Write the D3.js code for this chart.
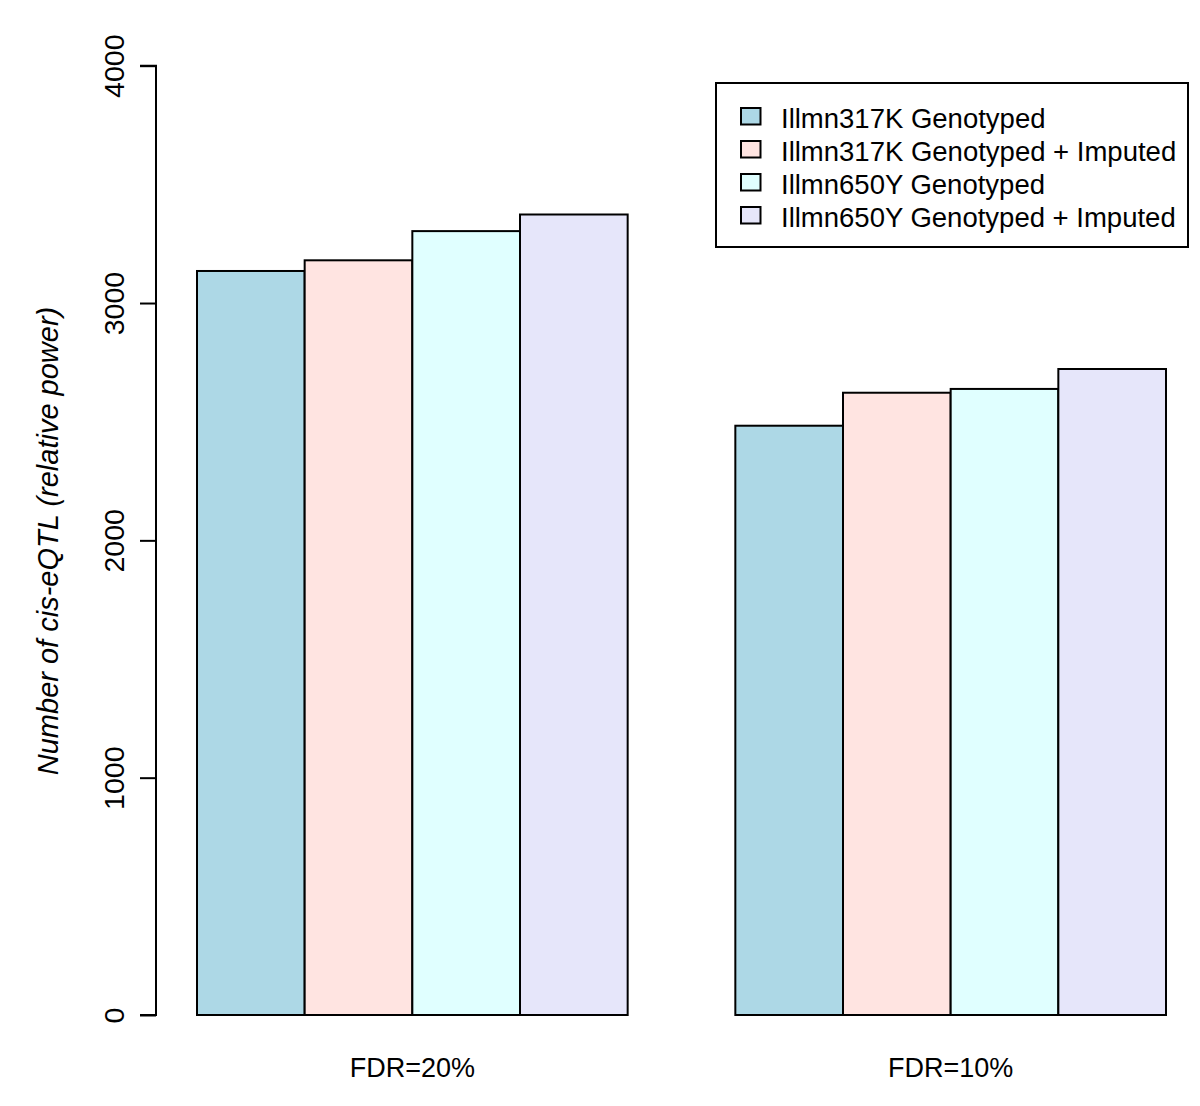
<!DOCTYPE html>
<html>
<head>
<meta charset="utf-8">
<script src="https://cdn.jsdelivr.net/npm/d3@7"></script>
<style>
  body { margin: 0; background: #fff; }
  text { font-family: "Liberation Sans", Arial, sans-serif; fill: #000; }
</style>
</head>
<body>
<svg id="chart" width="1200" height="1106"></svg>
<script>
const groups = ["FDR=20%", "FDR=10%"];
const seriesNames = ["Illmn317K Genotyped", "Illmn317K Genotyped + Imputed", "Illmn650Y Genotyped", "Illmn650Y Genotyped + Imputed"];
const seriesColors = ["#ADD8E6", "#FFE4E1", "#E0FFFF", "#E6E6FA"];
const fdr20Values = [3135, 3180, 3303, 3373];
const fdr10Values = [2483, 2622, 2638, 2722];
const yTicks = [0, 1000, 2000, 3000, 4000];
const yTitle = "Number of cis-eQTL (relative power)";

const values = [fdr20Values, fdr10Values];
const svg = d3.select("#chart");

const y = d3.scaleLinear().domain([0, 4000]).range([1015, 65.7]);
const xGroup = d3.scaleBand().domain(groups).range([197, 1166]).paddingInner(0.2).paddingOuter(0);
const xSub = d3.scaleBand().domain(d3.range(seriesNames.length)).range([0, xGroup.bandwidth()]).padding(0);

const g = svg.append("g");
groups.forEach((grp, gi) => {
  g.selectAll(null).data(values[gi]).enter().append("rect")
    .attr("x", (d, i) => xGroup(grp) + xSub(i))
    .attr("y", d => y(d))
    .attr("width", xSub.bandwidth())
    .attr("height", d => y(0) - y(d))
    .attr("fill", (d, i) => seriesColors[i])
    .attr("stroke", "#000")
    .attr("stroke-width", 2);
  svg.append("text")
    .attr("x", xGroup(grp) + xGroup.bandwidth() / 2)
    .attr("y", 1077)
    .attr("text-anchor", "middle")
    .attr("font-size", 27)
    .text(grp);
});

// Y axis
const yAxis = d3.axisLeft(y).tickValues(yTicks).tickSize(16).tickFormat(d3.format("d"));
const ax = svg.append("g").attr("transform", "translate(156,0)").call(yAxis);
ax.select(".domain").attr("stroke", "#000").attr("stroke-width", 2).attr("d", `M-16,${y(0)}H0V${y(4000)}H-16`);
ax.selectAll(".tick line").attr("stroke", "#000").attr("stroke-width", 2);
ax.selectAll(".tick text")
  .attr("font-size", 28.5)
  .attr("font-family", "'Liberation Sans', Arial, sans-serif")
  .attr("fill", "#000")
  .attr("x", null).attr("dy", null)
  .attr("text-anchor", "middle")
  .attr("transform", "translate(-32,0) rotate(-90)");

// Y title
svg.append("text")
  .attr("transform", "translate(58,541) rotate(-90)")
  .attr("text-anchor", "middle")
  .attr("font-size", 29)
  .attr("font-style", "italic")
  .text(yTitle);

// Legend
const lg = svg.append("g");
lg.append("rect").attr("x", 716).attr("y", 83).attr("width", 472).attr("height", 164)
  .attr("fill", "#fff").attr("stroke", "#000").attr("stroke-width", 2);
seriesNames.forEach((name, i) => {
  const base = 128.3 + i * 33;
  lg.append("rect").attr("x", 741).attr("y", base - 20.3).attr("width", 19.5).attr("height", 16.5)
    .attr("fill", seriesColors[i]).attr("stroke", "#000").attr("stroke-width", 2);
  lg.append("text").attr("x", 781).attr("y", base)
    .attr("font-size", 27.5).text(name);
});
</script>
</body>
</html>
